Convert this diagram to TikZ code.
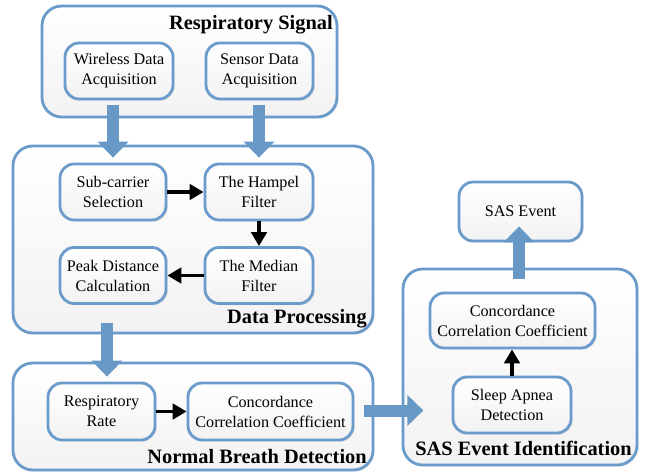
\documentclass[tikz,border=0pt]{standalone}
\usepackage{fontspec}
\setmainfont{Liberation Serif}
\usetikzlibrary{arrows.meta,calc,shadows}

\definecolor{boxblue}{RGB}{106,155,202}
\definecolor{arrowblue}{RGB}{104,152,198}

\tikzset{
  boxsize/.style 2 args={
    minimum width=#1*0.025cm,
    minimum height=#2*0.025cm
  },
  group/.style={
    draw=boxblue,
    line width=2pt,
    rounded corners=14pt,
    top color=white,
    bottom color=gray!10,
    drop shadow={shadow xshift=1.2pt,shadow yshift=-1.2pt,opacity=0.15},
    inner sep=0pt
  },
  stage/.style={
    draw=boxblue,
    line width=2pt,
    rounded corners=10pt,
    top color=white,
    bottom color=gray!10,
    drop shadow={shadow xshift=1.2pt,shadow yshift=-1.2pt,opacity=0.15},
    align=center,
    inner sep=0pt,
    font=\fontsize{11.5}{14.2}\selectfont
  },
  grouplabel/.style={
    anchor=base east,
    inner sep=0pt,
    font=\fontsize{14.5}{17}\selectfont\bfseries
  },
  bigarrow/.style={
    draw=arrowblue,
    line width=0.3cm,
    -{Triangle[length=0.4cm,width=0.75cm]}
  },
  flow/.style={
    draw=black,
    line width=2.6pt,
    -{Triangle[length=10pt,width=11pt]}
  }
}

\begin{document}
\begin{tikzpicture}[x=0.025cm,y=-0.025cm]
  \useasboundingbox (0,0) rectangle (645,473);

  % Groups
  \node[group,boxsize={295}{111}] (rs)  at (189.5,61.5) {};
  \node[group,boxsize={360}{187}] (dp)  at (193,239.5) {};
  \node[group,boxsize={360}{107}] (nbd) at (193,416.5) {};
  \node[group,boxsize={234}{196}] (sei) at (520,367) {};

  \node[grouplabel] at (333,30)  {Respiratory Signal};
  \node[grouplabel] at (367,323) {Data Processing};
  \node[grouplabel] at (367,463) {Normal Breath Detection};
  \node[grouplabel] at (632,455) {SAS Event Identification};

  % Respiratory signal
  \node[stage,boxsize={108}{56}] (wda) at (119,71)
    {Wireless Data\\Acquisition};
  \node[stage,boxsize={107}{56}] (sda) at (259.5,71)
    {Sensor Data\\Acquisition};

  % Data processing
  \node[stage,boxsize={106}{56}] (sub)  at (113,192)
    {Sub-carrier\\Selection};
  \node[stage,boxsize={108}{56}] (ham)  at (259,192)
    {The Hampel\\Filter};
  \node[stage,boxsize={108}{56}] (med)  at (259,275.5)
    {The Median\\Filter};
  \node[stage,boxsize={106}{56}] (peak) at (113,275.5)
    {Peak Distance\\Calculation};

  % Normal breath detection
  \node[stage,boxsize={107}{57}] (rr)   at (101.5,411.5)
    {Respiratory\\Rate};
  \node[stage,boxsize={165}{57}] (ccca) at (270.5,411.5)
    {Concordance\\Correlation Coefficient};

  % SAS event identification
  \node[stage,boxsize={165}{55}] (cccb) at (512.5,320.5)
    {Concordance\\Correlation Coefficient};
  \node[stage,boxsize={118}{56}] (sad)  at (512,405)
    {Sleep Apnea\\Detection};
  \node[stage,boxsize={123}{59}] (sas)  at (520.5,211.5)
    {SAS Event};

  % Block arrows between groups
  \draw[bigarrow] ($(sub.north)+(0,-58)$) -- ($(sub.north)+(0,-5)$);
  \draw[bigarrow] ($(ham.north)+(0,-58)$) -- ($(ham.north)+(0,-5)$);
  \draw[bigarrow] ($(rr.north)+(5.5,-59)$) -- ($(rr.north)+(5.5,-5)$);
  \draw[bigarrow] ($(ccca.east)+(10,-1)$) -- ($(ccca.east)+(69,-1)$);
  \draw[bigarrow] ($(sas.south)+(-1.5,37)$) -- ($(sas.south)+(-1.5,-16)$);

  % Steps
  \draw[flow] (sub) -- (ham);
  \draw[flow] (ham) -- (med);
  \draw[flow] (med) -- (peak);
  \draw[flow] (rr) -- (ccca);
  \draw[flow] (sad.north) -- (sad.north |- cccb.south);
\end{tikzpicture}
\end{document}
